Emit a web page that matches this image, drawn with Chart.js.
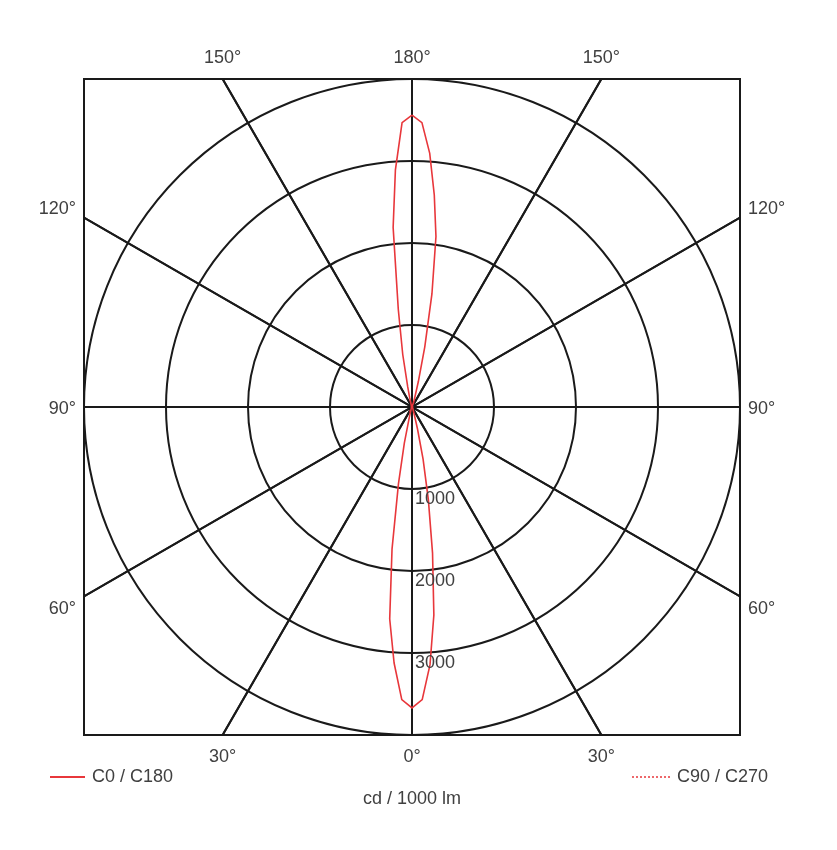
<!DOCTYPE html>
<html>
<head>
<meta charset="utf-8">
<script src="https://cdn.jsdelivr.net/npm/chart.js@4.4.1/dist/chart.umd.min.js"></script>
<style>
  html, body { margin: 0; padding: 0; background: #fff; }
</style>
</head>
<body>
<canvas id="polar" width="837" height="850"></canvas>
<script>
/* Luminous intensity distribution, cd / 1000 lm.
   gamma 0 = straight down, 180 = straight up */
var gammaDeg = [0, 2, 4, 6, 8, 10, 12, 14, 16, 20, 30, 45, 60, 75, 90, 105, 120, 135, 150, 160, 164, 166, 168, 170, 172, 174, 176, 178, 180];
var c0   = [3670, 3570, 3150, 2550, 1800, 1150, 650, 280, 120, 50, 20, 10, 5, 0, 0, 0, 5, 10, 20, 50, 130, 320, 750, 1400, 2100, 2600, 3100, 3470, 3560];
var c180 = [3670, 3570, 3130, 2600, 1750, 950, 450, 150, 80, 40, 20, 10, 5, 0, 0, 0, 5, 10, 20, 30, 60, 120, 250, 650, 1200, 2200, 2900, 3470, 3560];
var c90 = []; /* only in the legend, no visible curve */

var rings = [1000, 2000, 3000, 4000];
var ringLabels = ['1000', '2000', '3000'];
var spokeDeg = [0, 30, 60, 90, 120, 150];
var edgeLabelDeg = [0, 30, 60, 90, 120, 150, 180];
var unitLabel = 'cd / 1000 lm';
var rMax = 4000;

var RED = '#e8373b';
var INK = '#1a1a1a';
var TXT = '#404040';
var FONT = '18px "Liberation Sans", Arial, sans-serif';

function rad(d) { return d * Math.PI / 180; }

/* left half = C180 (gamma 180 -> 0), right half = C0 (gamma 0 -> 180) */
var curve = [];
for (var i = gammaDeg.length - 1; i >= 0; i--) {
  curve.push({ x: -c180[i] * Math.sin(rad(gammaDeg[i])), y: -c180[i] * Math.cos(rad(gammaDeg[i])) });
}
for (var j = 1; j < gammaDeg.length; j++) {
  curve.push({ x: c0[j] * Math.sin(rad(gammaDeg[j])), y: -c0[j] * Math.cos(rad(gammaDeg[j])) });
}

var polarGrid = {
  id: 'polarGrid',
  beforeDatasetsDraw: function (chart) {
    var ctx = chart.ctx, a = chart.chartArea;
    var sx = chart.scales.x, sy = chart.scales.y;
    var cx = sx.getPixelForValue(0), cy = sy.getPixelForValue(0);
    var px = function (v) { return sx.getPixelForValue(v) - cx; };
    ctx.save();
    ctx.strokeStyle = INK;
    ctx.lineWidth = 2;
    ctx.strokeRect(a.left, a.top, a.right - a.left, a.bottom - a.top);

    ctx.beginPath();
    ctx.rect(a.left, a.top, a.right - a.left, a.bottom - a.top);
    ctx.clip();

    rings.forEach(function (r) {
      ctx.beginPath();
      ctx.arc(cx, cy, px(r), 0, Math.PI * 2);
      ctx.stroke();
    });

    var far = px(rMax) * 2;
    spokeDeg.forEach(function (d) {
      var dx = Math.sin(rad(d)) * far, dy = Math.cos(rad(d)) * far;
      ctx.beginPath();
      ctx.moveTo(cx - dx, cy - dy);
      ctx.lineTo(cx + dx, cy + dy);
      ctx.stroke();
      ctx.beginPath();
      ctx.moveTo(cx + dx, cy - dy);
      ctx.lineTo(cx - dx, cy + dy);
      ctx.stroke();
    });
    ctx.restore();
  },
  afterDraw: function (chart) {
    var ctx = chart.ctx, a = chart.chartArea;
    var sx = chart.scales.x, sy = chart.scales.y;
    var cx = sx.getPixelForValue(0), cy = sy.getPixelForValue(0);
    var half = sx.getPixelForValue(rMax) - cx;
    ctx.save();
    ctx.font = FONT;
    ctx.fillStyle = TXT;

    /* ring values along the 0 deg spoke */
    ctx.textAlign = 'left';
    ctx.textBaseline = 'middle';
    ringLabels.forEach(function (t, k) {
      ctx.fillText(t, cx + 3, sy.getPixelForValue(-rings[k]) + 10);
    });

    /* angle labels where the spokes meet the frame */
    edgeLabelDeg.forEach(function (d) {
      var s = Math.sin(rad(d)), c = Math.cos(rad(d));
      var t = half / Math.max(Math.abs(s), Math.abs(c));
      var sides = (d === 0 || d === 180) ? [1] : [-1, 1];
      sides.forEach(function (side) {
        var x = cx + side * s * t, y = cy + c * t;
        if (Math.abs(c) >= Math.abs(s) - 1e-9) {
          ctx.textAlign = 'center';
          ctx.fillText(d + '°', x, c < 0 ? a.top - 21 : a.bottom + 22);
        } else {
          ctx.textAlign = side < 0 ? 'right' : 'left';
          ctx.fillText(d + '°', side < 0 ? a.left - 8 : a.right + 8, y + 2 + 22 * c);
        }
      });
    });

    /* legend */
    var ds = chart.data.datasets;
    var ly = a.bottom + 42;
    ctx.strokeStyle = ds[0].borderColor;
    ctx.lineWidth = 2;
    ctx.beginPath(); ctx.moveTo(50, ly); ctx.lineTo(85, ly); ctx.stroke();
    ctx.textAlign = 'left';
    ctx.fillText(ds[0].label, 92, ly);

    ctx.strokeStyle = ds[1].borderColor;
    ctx.lineWidth = 1.5;
    ctx.setLineDash([2, 2]);
    ctx.beginPath(); ctx.moveTo(632, ly); ctx.lineTo(670, ly); ctx.stroke();
    ctx.setLineDash([]);
    ctx.fillText(ds[1].label, 677, ly);

    ctx.textAlign = 'center';
    ctx.fillText(unitLabel, cx, ly + 22);
    ctx.restore();
  }
};

new Chart(document.getElementById('polar'), {
  type: 'scatter',
  data: {
    datasets: [
      { label: 'C0 / C180', data: curve, showLine: true, borderColor: RED, borderWidth: 1.6, pointRadius: 0, tension: 0 },
      { label: 'C90 / C270', data: c90, showLine: true, borderColor: RED, borderWidth: 1.6, borderDash: [2, 2], pointRadius: 0 }
    ]
  },
  options: {
    responsive: false,
    animation: false,
    devicePixelRatio: 1,
    layout: { padding: { left: 84, right: 97, top: 79, bottom: 115 } },
    plugins: { legend: { display: false }, tooltip: { enabled: false } },
    scales: {
      x: { type: 'linear', min: -rMax, max: rMax, display: false },
      y: { type: 'linear', min: -rMax, max: rMax, display: false }
    }
  },
  plugins: [polarGrid]
});
</script>
</body>
</html>
